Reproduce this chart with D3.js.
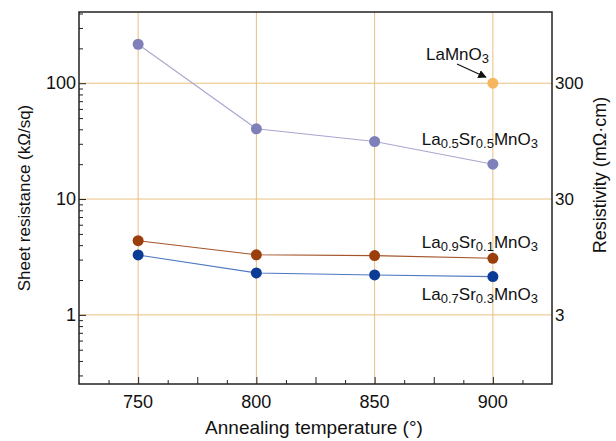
<!DOCTYPE html>
<html>
<head>
<meta charset="utf-8">
<script src="https://cdn.jsdelivr.net/npm/d3@7"></script>
<style>
	body { margin: 0; background: #fff; }
	text { font-family: "Liberation Sans", Arial, sans-serif; fill: #111; }
</style>
</head>
<body>
<div id="chart"></div>
<script>
// Data
var temps = [750, 800, 850, 900];
var laSr55 = [217, 40.4, 31.4, 20.0];   // La0.5Sr0.5MnO3
var laSr91 = [4.37, 3.3, 3.25, 3.08];   // La0.9Sr0.1MnO3
var laSr73 = [3.29, 2.3, 2.21, 2.14];   // La0.7Sr0.3MnO3
var laMnO3 = [[900, 100]];
var xTicks = [750, 800, 850, 900];
var yTicks = [1, 10, 100];
var rightTicks = [3, 30, 300];

var W = 616, H = 441;
var margin = {top: 12, right: 64, bottom: 57, left: 79};

var svg = d3.select('#chart').append('svg')
	.attr('width', W)
	.attr('height', H);

var x = d3.scaleLinear().domain([725, 925]).range([margin.left, W - margin.right]);
var y = d3.scaleLog().domain([0.253, 412]).range([H - margin.bottom, margin.top]);
// right axis is just resistivity = 3 * sheet resistance
var y2 = d3.scaleLog().domain([0.253 * 3, 412 * 3]).range([H - margin.bottom, margin.top]);

var gridColor = '#e9bf80';

// grid
svg.selectAll('.vgrid').data(xTicks).enter().append('line')
	.attr('x1', function(d) { return x(d); })
	.attr('x2', function(d) { return x(d); })
	.attr('y1', margin.top).attr('y2', H - margin.bottom)
	.attr('stroke', gridColor).attr('stroke-width', 1);
svg.selectAll('.hgrid').data(yTicks).enter().append('line')
	.attr('y1', function(d) { return y(d); })
	.attr('y2', function(d) { return y(d); })
	.attr('x1', margin.left).attr('x2', W - margin.right)
	.attr('stroke', gridColor).attr('stroke-width', 1);

// left axis: minor ticks inward
var minor = [];
[0.1, 1, 10, 100].forEach(function(dec) {
	for (var k = 2; k <= 9; k++) {
		var v = dec * k;
		if (v > 0.253 && v < 412) minor.push(v);
	}
});
svg.append('g')
	.attr('transform', 'translate(' + margin.left + ',0)')
	.call(d3.axisRight(y).tickValues(minor).tickSize(4).tickFormat(''))
	.call(function(g) { g.select('.domain').remove(); g.selectAll('line').attr('stroke', '#222'); });
svg.append('g')
	.attr('transform', 'translate(' + margin.left + ',0)')
	.call(d3.axisRight(y).tickValues(yTicks).tickSize(7).tickFormat(''))
	.call(function(g) { g.select('.domain').remove(); g.selectAll('line').attr('stroke', '#222'); });
svg.selectAll('.ylab').data(yTicks).enter().append('text')
	.attr('x', margin.left - 3)
	.attr('y', function(d) { return y(d) + 6; })
	.attr('text-anchor', 'end')
	.style('font-size', '18px')
	.text(function(d) { return d; });

// bottom axis: major every 25, minor at 12.5
var xMinor = d3.range(737.5, 925, 25);
var xMajor = d3.range(750, 925, 25);
svg.append('g')
	.attr('transform', 'translate(0,' + (H - margin.bottom) + ')')
	.call(d3.axisTop(x).tickValues(xMinor).tickSize(4).tickFormat(''))
	.call(function(g) { g.select('.domain').remove(); g.selectAll('line').attr('stroke', '#222'); });
svg.append('g')
	.attr('transform', 'translate(0,' + (H - margin.bottom) + ')')
	.call(d3.axisTop(x).tickValues(xMajor).tickSize(7).tickFormat(''))
	.call(function(g) { g.select('.domain').remove(); g.selectAll('line').attr('stroke', '#222'); });
svg.selectAll('.xlab').data(xTicks).enter().append('text')
	.attr('x', function(d) { return x(d); })
	.attr('y', H - margin.bottom + 24)
	.attr('text-anchor', 'middle')
	.style('font-size', '18px')
	.text(function(d) { return d; });

// right labels
svg.selectAll('.rlab').data(rightTicks).enter().append('text')
	.attr('x', W - margin.right + 3)
	.attr('y', function(d) { return y2(d) + 6; })
	.style('font-size', '17px')
	.text(function(d) { return d; });

// frame
svg.append('rect')
	.attr('x', margin.left).attr('y', margin.top)
	.attr('width', W - margin.left - margin.right)
	.attr('height', H - margin.top - margin.bottom)
	.attr('fill', 'none').attr('stroke', '#222').attr('stroke-width', 1.5);

// series
var series = [
	{vals: laSr55, line: '#a7a7cf', dot: '#7f80b9'},
	{vals: laSr91, line: '#a4532a', dot: '#9a3e0c'},
	{vals: laSr73, line: '#4d78c0', dot: '#0b3d96'}
];
var line = d3.line()
	.x(function(d) { return x(d[0]); })
	.y(function(d) { return y(d[1]); });

series.forEach(function(s) {
	var pts = temps.map(function(t, i) { return [t, s.vals[i]]; });
	svg.append('path')
		.datum(pts)
		.attr('d', line)
		.attr('fill', 'none')
		.attr('stroke', s.line)
		.attr('stroke-width', 1.1);
	svg.selectAll(null).data(pts).enter().append('circle')
		.attr('cx', function(d) { return x(d[0]); })
		.attr('cy', function(d) { return y(d[1]); })
		.attr('r', 5.5)
		.attr('fill', s.dot);
});

svg.selectAll(null).data(laMnO3).enter().append('circle')
	.attr('cx', function(d) { return x(d[0]); })
	.attr('cy', function(d) { return y(d[1]); })
	.attr('r', 5.5)
	.attr('fill', '#f7b55e');

// annotations
function formula(xp, yp, parts) {
	var t = svg.append('text')
		.attr('x', xp).attr('y', yp)
		.attr('text-anchor', 'end')
		.style('font-size', '17px');
	parts.forEach(function(p) {
		var ts = t.append('tspan').text(p[0]);
		if (p[1]) ts.attr('dy', 3).style('font-size', '13px');
		else if (p[2]) ts.attr('dy', -3);
	});
}
formula(489, 60, [['LaMnO'], ['3', true]]);
formula(538, 145, [['La'], ['0.5', true], ['Sr', false, true], ['0.5', true], ['MnO', false, true], ['3', true]]);
formula(538, 248, [['La'], ['0.9', true], ['Sr', false, true], ['0.1', true], ['MnO', false, true], ['3', true]]);
formula(538, 300, [['La'], ['0.7', true], ['Sr', false, true], ['0.3', true], ['MnO', false, true], ['3', true]]);

// arrow to LaMnO3 point
svg.append('defs').append('marker')
	.attr('id', 'arr')
	.attr('viewBox', '0 0 10 10')
	.attr('refX', 9).attr('refY', 5)
	.attr('markerWidth', 7).attr('markerHeight', 7)
	.attr('orient', 'auto')
	.append('path').attr('d', 'M0,0 L10,5 L0,10 Z').attr('fill', '#111');
svg.append('line')
	.attr('x1', 457).attr('y1', 64)
	.attr('x2', x(900) - 7).attr('y2', y(100) - 6)
	.attr('stroke', '#111').attr('stroke-width', 1.2)
	.attr('marker-end', 'url(#arr)');

// axis titles
svg.append('text')
	.attr('transform', 'translate(30,' + 198 + ') rotate(-90)')
	.attr('text-anchor', 'middle')
	.style('font-size', '17px')
	.text('Sheet resistance (kΩ/sq)');
svg.append('text')
	.attr('transform', 'translate(606,' + 175 + ') rotate(-90)')
	.attr('text-anchor', 'middle')
	.style('font-size', '18px')
	.text('Resistivity (mΩ·cm)');
svg.append('text')
	.attr('x', 314).attr('y', 434)
	.attr('text-anchor', 'middle')
	.style('font-size', '19px')
	.text('Annealing temperature (°)');
</script>
</body>
</html>
